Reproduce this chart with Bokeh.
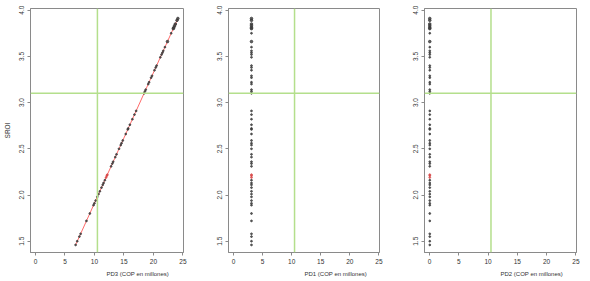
from bokeh.plotting import figure
from bokeh.layouts import row
from bokeh.models import Span, FixedTicker, Title, ColumnDataSource
from bokeh.embed import file_html
from bokeh.resources import INLINE

# ---- data ----
sroi = [1.46, 1.50, 1.55, 1.58, 1.72, 1.80, 1.89, 1.91, 1.94, 1.98, 2.01, 2.04,
        2.08, 2.11, 2.13, 2.16, 2.19, 2.21, 2.22, 2.31, 2.34, 2.36, 2.41, 2.44,
        2.50, 2.54, 2.56, 2.59, 2.66, 2.71, 2.72, 2.76, 2.82, 2.87, 2.91, 3.10,
        3.12, 3.14, 3.20, 3.22, 3.27, 3.29, 3.35, 3.38, 3.40, 3.49, 3.52, 3.54,
        3.56, 3.60, 3.66, 3.75, 3.80, 3.81, 3.83, 3.85, 3.89, 3.91]
pd3 = [6.80, 7.08, 7.44, 7.65, 8.64, 9.21, 9.84, 9.99, 10.20, 10.48, 10.69, 10.91,
       11.19, 11.40, 11.54, 11.76, 11.97, 12.11, 12.18, 12.82, 13.03, 13.17, 13.53, 13.74,
       14.16, 14.45, 14.59, 14.80, 15.30, 15.65, 15.72, 16.00, 16.43, 16.78, 17.07, 18.41,
       18.55, 18.69, 19.12, 19.26, 19.61, 19.76, 20.18, 20.39, 20.54, 21.17, 21.38, 21.53,
       21.67, 21.95, 22.38, 23.01, 23.37, 23.44, 23.58, 23.72, 24.00, 24.15]
pd1 = [3.1] * len(sroi)
pd2 = [0.05] * len(sroi)
red_group = [2.19, 2.21, 2.22]   # SROI values drawn in red
big_group = [3.80, 3.81, 3.83, 3.85, 3.89, 3.91, 3.66]  # heavier dots at the top

x_ticks = [0, 5, 10, 15, 20, 25]
x_tick_labels = ["0", "5", "10", "15", "20", "25"]
y_ticks = [1.5, 2.0, 2.5, 3.0, 3.5, 4.0]
y_tick_labels = ["1.5", "2.0", "2.5", "3.0", "3.5", "4.0"]
ref_x = 10.5
ref_y = 3.1
x_labels = ["PD3 (COP en millones)", "PD1 (COP en millones)", "PD2 (COP en millones)"]
y_label = "SROI"

FONT = "Liberation Sans"
GRAY = "#8a8a8a"
TXT = "#333333"
GREEN = "#b4df8c"

colors = ["#d84848" if s in red_group else "#3a3a3a" for s in sroi]
sizes = [2.6 if s in big_group else 1.8 for s in sroi]


def make_panel(xvals, xlabel, left, frame_w, right, with_line=False, ylab=None):
    p = figure(frame_width=frame_w, frame_height=244,
               x_range=(-0.85, 25.1), y_range=(1.378, 4.018),
               output_backend="svg", toolbar_location=None,
               min_border_left=left, min_border_right=right,
               min_border_top=8, min_border_bottom=28)
    p.grid.visible = False
    p.outline_line_color = GRAY
    p.outline_line_width = 1
    p.background_fill_color = "white"
    p.border_fill_color = "white"
    for ax, ticks, labels in ((p.xaxis, x_ticks, x_tick_labels), (p.yaxis, y_ticks, y_tick_labels)):
        ax.ticker = FixedTicker(ticks=ticks)
        ax.major_label_overrides = {t: l for t, l in zip(ticks, labels)}
        ax.axis_line_color = GRAY
        ax.major_tick_line_color = GRAY
        ax.minor_tick_line_color = None
        ax.major_tick_in = 0
        ax.major_tick_out = 3
        ax.major_label_text_font = FONT
        ax.major_label_text_font_size = "6.5px"
        ax.major_label_text_color = TXT
    p.xaxis.major_label_standoff = 3
    p.yaxis.major_label_standoff = 3
    p.yaxis.major_label_orientation = "vertical"
    if ylab:
        p.yaxis.axis_label = ylab
        p.yaxis.axis_label_text_font = FONT
        p.yaxis.axis_label_text_font_size = "6.5px"
        p.yaxis.axis_label_text_font_style = "normal"
        p.yaxis.axis_label_text_color = TXT
        p.yaxis.axis_label_standoff = 6

    p.add_layout(Span(location=ref_x, dimension="height", line_color=GREEN, line_width=1.5))
    p.add_layout(Span(location=ref_y, dimension="width", line_color=GREEN, line_width=1.5))

    src = ColumnDataSource(dict(x=xvals, y=sroi, c=colors, s=sizes))
    if with_line:
        p.line("x", "y", source=src, line_color="#ff6a6a", line_width=1)
    p.scatter("x", "y", source=src, size="s", fill_color="c", line_color="c", alpha=0.8)

    p.add_layout(Title(text=xlabel, align="left", offset=76, standoff=4,
                       text_font=FONT, text_font_size="6px", text_font_style="normal",
                       text_color=TXT), "below")
    return p


p1 = make_panel(pd3, x_labels[0], 25, 153, 19, with_line=True, ylab=y_label)
p2 = make_panel(pd1, x_labels[1], 26, 151, 18)
p3 = make_panel(pd2, x_labels[2], 27, 152, 16)

layout = row(p1, p2, p3)
open("out.html", "w").write(file_html(layout, INLINE))
